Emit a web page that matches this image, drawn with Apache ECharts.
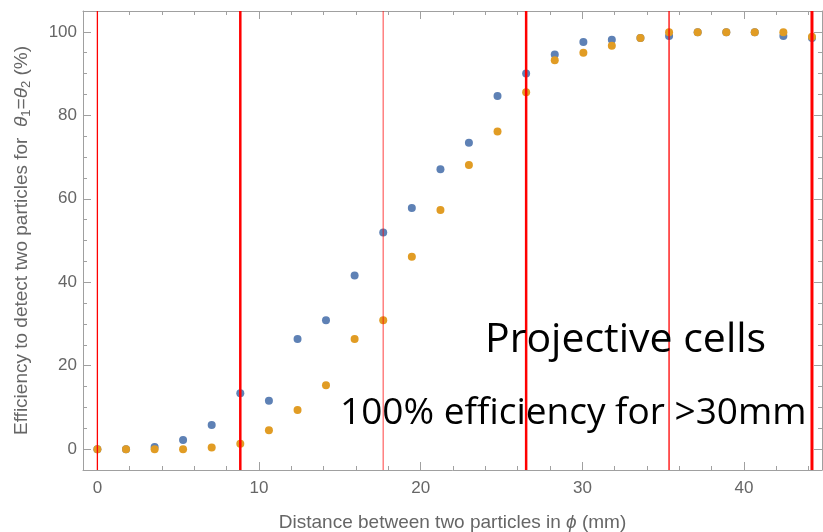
<!DOCTYPE html>
<html>
<head>
<meta charset="utf-8">
<script src="https://cdn.jsdelivr.net/npm/echarts@6/dist/echarts.min.js"></script>
<style>html,body{margin:0;padding:0;background:#fff}#c{width:823px;height:532px}</style>
</head>
<body>
<div id="c"></div>
<script>
// Data
const distances = [0, 1.77, 3.54, 5.30, 7.07, 8.84, 10.61, 12.38, 14.14, 15.91, 17.68, 19.45, 21.22, 22.98, 24.75, 26.52, 28.29, 30.06, 31.82, 33.59, 35.36, 37.13, 38.90, 40.66, 42.43, 44.20];
const effBlue   = [0, 0, 0.5, 2.2, 5.8, 13.4, 11.6, 26.4, 30.9, 41.6, 51.9, 57.8, 67.1, 73.4, 84.6, 90.0, 94.6, 97.6, 98.1, 98.5, 99.0, 99.9, 99.9, 99.9, 99.0, 98.5];
const effOrange = [0, 0, 0, 0, 0.4, 1.3, 4.5, 9.4, 15.3, 26.4, 30.9, 46.1, 57.3, 68.1, 76.1, 85.5, 93.2, 95.0, 96.7, 98.5, 99.9, 99.9, 99.9, 99.9, 99.9, 98.8];
const cellBoundaries = [0, 8.84, 17.68, 26.52, 35.36, 44.20];
const xMajorTicks = [0, 10, 20, 30, 40];
const xMinorTicks = [2, 4, 6, 8, 12, 14, 16, 18, 22, 24, 26, 28, 32, 34, 36, 38, 42, 44];
const yMajorTicks = [0, 20, 40, 60, 80, 100];
const yMinorTicks = [5, 10, 15, 25, 30, 35, 45, 50, 55, 65, 70, 75, 85, 90, 95];
const annotation1 = 'Projective cells';
const annotation2 = '100% efficiency for >30mm';

const boundaryStyles = [
  {color: '#ff0000', width: 1.3, opacity: 1},
  {color: '#ff0000', width: 2.5, opacity: 1},
  {color: '#ff0000', width: 1.5, opacity: 0.5},
  {color: '#ff0000', width: 2.5, opacity: 1},
  {color: '#ff0000', width: 1.3, opacity: 1},
  {color: '#ff0000', width: 3, opacity: 1}
];

const axisGray = '#a0a0a0';
const labelGray = '#666666';
const XMIN = -0.89, XMAX = 44.82, YMIN = -5, YMAX = 105;

function xAx(pos, ticks, len, labels, line) {
  return {
    type: 'value', position: pos, min: XMIN, max: XMAX,
    axisLine: {show: line, onZero: false, lineStyle: {color: axisGray, width: 1}},
    axisTick: {show: true, inside: true, length: len, customValues: ticks, lineStyle: {color: axisGray}},
    axisLabel: labels ? {show: true, customValues: ticks, color: labelGray, fontSize: 17, fontFamily: 'Liberation Sans', margin: 10} : {show: false},
    splitLine: {show: false}
  };
}
function yAx(pos, ticks, len, labels, line) {
  return {
    type: 'value', position: pos, min: YMIN, max: YMAX,
    axisLine: {show: line, onZero: false, lineStyle: {color: axisGray, width: 1}},
    axisTick: {show: true, inside: true, length: len, customValues: ticks, lineStyle: {color: axisGray}},
    axisLabel: labels ? {show: true, customValues: ticks, color: labelGray, fontSize: 17, fontFamily: 'Liberation Sans', margin: 6} : {show: false},
    splitLine: {show: false}
  };
}

const TF = 19;
const xAxes = [
  xAx('bottom', xMajorTicks, 8, true, true),
  xAx('bottom', xMinorTicks, 4, false, false),
  xAx('top', xMajorTicks, 8, false, true),
  xAx('top', xMinorTicks, 4, false, false)
];
xAxes[0].name = '{n|Distance between two particles in }{i|ϕ}{n| (mm)}';
xAxes[0].nameLocation = 'middle';
xAxes[0].nameGap = 43;
xAxes[0].nameTextStyle = {
  color: labelGray, fontSize: TF, fontFamily: 'Liberation Sans',
  rich: {n: {color: labelGray, fontSize: TF, fontFamily: 'Liberation Sans'},
         i: {color: labelGray, fontSize: TF, fontFamily: 'Liberation Sans', fontStyle: 'italic'}}
};

const yAxes = [
  yAx('left', yMajorTicks, 8, true, true),
  yAx('left', yMinorTicks, 4, false, false),
  yAx('right', yMajorTicks, 8, false, true),
  yAx('right', yMinorTicks, 4, false, false)
];
yAxes[0].name = '{n|Efficiency to detect two particles for  }{i|θ}{s|1}{n|=}{i|θ}{s|2}{n| (%)}';
yAxes[0].nameLocation = 'middle';
yAxes[0].nameRotate = 90;
yAxes[0].nameGap = 50;
yAxes[0].nameTextStyle = {
  color: labelGray, fontSize: TF, fontFamily: 'Liberation Sans',
  rich: {n: {color: labelGray, fontSize: TF, fontFamily: 'Liberation Sans'},
         i: {color: labelGray, fontSize: TF, fontFamily: 'Liberation Sans', fontStyle: 'italic'},
         s: {color: labelGray, fontSize: 13, fontFamily: 'Liberation Sans', padding: [9, 0, 0, 0]}}
};

const boundarySeries = cellBoundaries.map((b, i) => ({
  type: 'line', name: 'boundary' + i, z: 5, symbol: 'none', silent: true,
  lineStyle: {color: boundaryStyles[i].color, width: boundaryStyles[i].width, opacity: boundaryStyles[i].opacity},
  data: [[b, YMIN], [b, YMAX]]
}));

const chart = echarts.init(document.getElementById('c'));
chart.setOption({
  animation: false,
  backgroundColor: '#ffffff',
  grid: {left: 83, top: 11, width: 739, height: 459, containLabel: false, outerBoundsMode: 'none'},
  xAxis: xAxes,
  yAxis: yAxes,
  series: [
    {type: 'scatter', name: 'blue', symbolSize: 8, itemStyle: {color: '#5E81B5', opacity: 1},
     data: distances.map((d, i) => [d, effBlue[i]]), z: 2},
    {type: 'scatter', name: 'orange', symbolSize: 8, itemStyle: {color: '#E19C24', opacity: 1},
     data: distances.map((d, i) => [d, effOrange[i]]), z: 3}
  ].concat(boundarySeries),
  graphic: [
    {type: 'text', left: 485, top: 320, z: 10,
     style: {text: annotation1, fill: '#000', font: '41px "Open Sans"'}},
    {type: 'text', left: 340, top: 395, z: 10,
     style: {text: annotation2, fill: '#000', font: '37px "Open Sans"'}}
  ]
});
</script>
</body>
</html>
